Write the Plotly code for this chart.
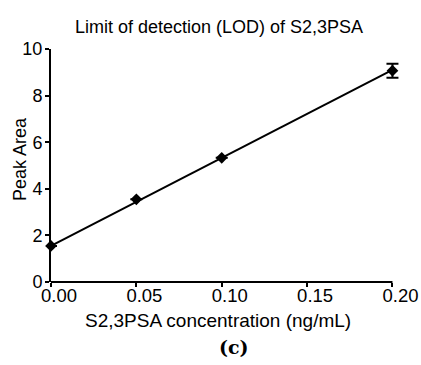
import plotly.graph_objects as go

conc = [0.0, 0.05, 0.10, 0.20]
peak_area = [1.55, 3.55, 5.33, 9.07]
peak_err = [0.0, 0.0, 0.0, 0.30]
fit_x = [0.0, 0.20]
fit_y = [1.55, 9.10]
x_ticks = [0.0, 0.05, 0.10, 0.15, 0.20]
x_tick_labels = ["0.00", "0.05", "0.10", "0.15", "0.20"]
y_ticks = [0, 2, 4, 6, 8, 10]
x_max = 0.20
x_pad = 0.005  # small extra room so the last error-bar cap is not clipped

fig = go.Figure()
fig.add_trace(go.Scatter(x=fit_x, y=fit_y, mode="lines",
                         line=dict(color="black", width=2), cliponaxis=False,
                         showlegend=False, hoverinfo="skip"))
fig.add_trace(go.Scatter(x=conc, y=peak_area, mode="markers",
                         marker=dict(symbol="diamond", size=9, color="black"),
                         error_y=dict(type="data", array=peak_err, color="black",
                                      thickness=2, width=6),
                         cliponaxis=False, showlegend=False))
# invisible trace that activates the label-only overlay axis
fig.add_trace(go.Scatter(x=[None], y=[None], xaxis="x2", yaxis="y",
                         showlegend=False, hoverinfo="skip"))

font = "Liberation Sans, Arial, sans-serif"
W, H = 421, 365
L, T, B = 51, 49, 83
pw_axis = 341  # pixel length of the visible 0..0.2 axis
pw = pw_axis * (x_max + x_pad) / x_max
R = W - L - pw
ph = H - T - B
label_shift = 8 * x_max / pw_axis  # tick labels sit ~8px right of their ticks
fig.update_layout(
    width=W, height=H,
    margin=dict(l=L, r=R, t=T, b=B, pad=0, autoexpand=False),
    paper_bgcolor="white", plot_bgcolor="white",
    font=dict(family=font, color="black", size=18),
    title=dict(text="Limit of detection (LOD) of S2,3PSA", x=219 / W, xanchor="center",
               y=1 - 27 / H, yanchor="middle", font=dict(size=18, family=font)),
    xaxis=dict(range=[0, x_max + x_pad], tickvals=x_ticks, showticklabels=False,
               showgrid=False, zeroline=False, showline=False, automargin=False,
               ticks="outside", ticklen=4, tickwidth=2, tickcolor="black"),
    xaxis2=dict(range=[-label_shift, x_max + x_pad - label_shift], overlaying="x",
                anchor="y", side="bottom", tickvals=x_ticks, ticktext=x_tick_labels,
                showgrid=False, zeroline=False, showline=False, ticks="",
                automargin=False, tickfont=dict(size=18.5), ticklabelstandoff=0),
    yaxis=dict(range=[0, 10], tickvals=y_ticks, automargin=False,
               showgrid=False, zeroline=False, showline=True, linecolor="black",
               linewidth=2, ticks="outside", ticklen=4, tickwidth=2, tickcolor="black",
               tickfont=dict(size=18), ticklabelstandoff=-1),
)
# x axis line only over the 0..0.2 span
fig.add_shape(type="line", xref="x", yref="paper", x0=0, x1=x_max, y0=0, y1=0,
              line=dict(color="black", width=2), layer="above")
# axis titles
fig.add_annotation(text="S2,3PSA concentration (ng/mL)", xref="paper", yref="paper",
                   x=(217.5 - L) / pw, y=(H - B - 320) / ph, xanchor="center",
                   yanchor="middle", showarrow=False, font=dict(size=19, family=font))
fig.add_annotation(text="Peak Area", xref="paper", yref="paper", textangle=-90,
                   x=(20 - L) / pw, y=(H - B - 159) / ph, xanchor="center",
                   yanchor="middle", showarrow=False, font=dict(size=18, family=font))
fig.add_annotation(text="<b>(c)</b>", x=(234 - L) / pw, y=(H - B - 347) / ph,
                   xref="paper", yref="paper", xanchor="center", yanchor="middle",
                   showarrow=False, font=dict(size=19, family="DejaVu Serif"))
fig.write_html("out.html", config={"displayModeBar": False},
               post_script="document.body.style.margin='0px';")
